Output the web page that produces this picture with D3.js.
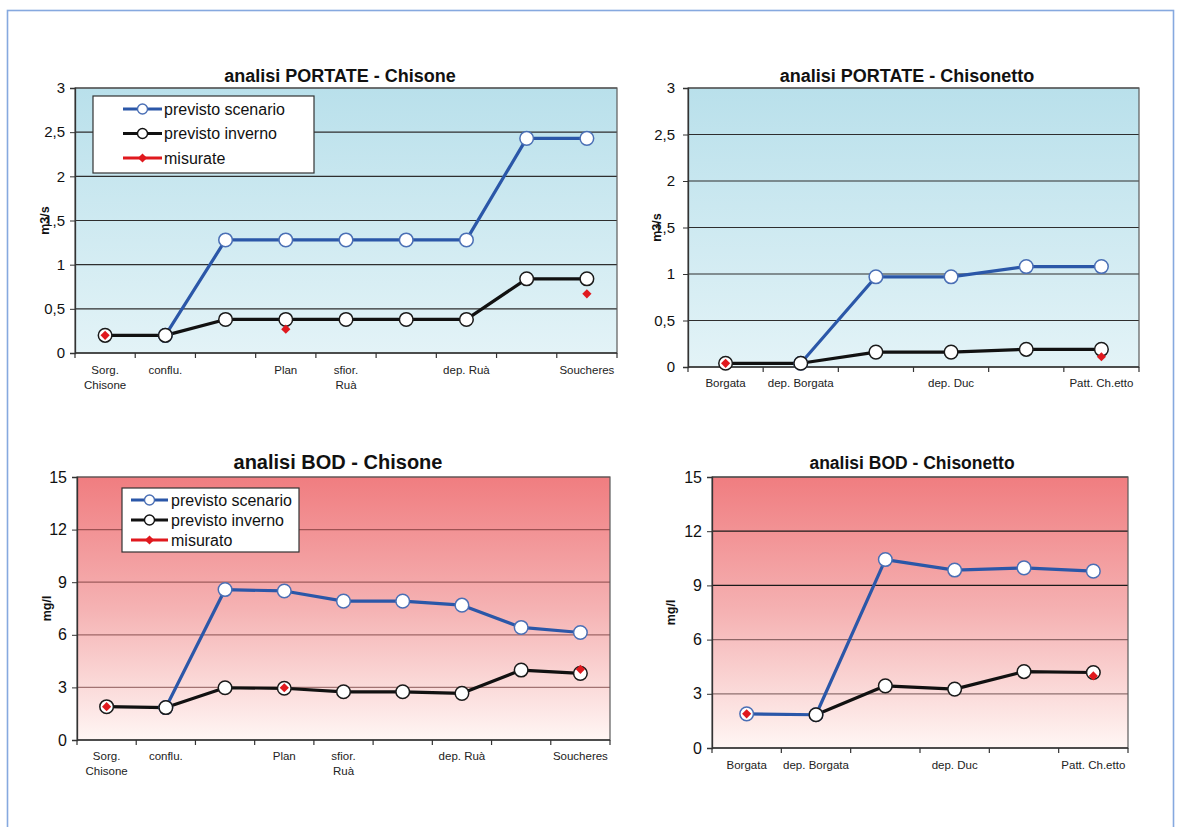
<!DOCTYPE html>
<html>
<head>
<meta charset="utf-8">
<script src="https://cdn.jsdelivr.net/npm/d3@7"></script>
<style>
  html, body { margin: 0; padding: 0; background: #fff; }
  svg { display: block; font-family: "Liberation Sans", Arial, sans-serif; }
</style>
</head>
<body>
<svg id="chart" width="1177" height="827"></svg>
<script>
// ---- data ----
const chisoneCats = [["Sorg.", "Chisone"], ["conflu."], [], ["Plan"], ["sfior.", "Ruà"], [], ["dep. Ruà"], [], ["Soucheres"]];
const chisonettoCats = [["Borgata"], ["dep. Borgata"], [], ["dep. Duc"], [], ["Patt. Ch.etto"]];

const portataTicks = [0, 0.5, 1, 1.5, 2, 2.5, 3];
const bodTicks = [0, 3, 6, 9, 12, 15];

const portChisoneScenario = [null, 0.2, 1.28, 1.28, 1.28, 1.28, 1.28, 2.43, 2.43];
const portChisoneInverno  = [0.2, 0.2, 0.38, 0.38, 0.38, 0.38, 0.38, 0.84, 0.84];
const portChisoneMisurate = [0.2, null, null, 0.27, null, null, null, null, 0.67];

const portChisonettoScenario = [null, 0.04, 0.97, 0.97, 1.08, 1.08];
const portChisonettoInverno  = [0.04, 0.04, 0.16, 0.16, 0.19, 0.19];
const portChisonettoMisurate = [0.04, null, null, null, null, 0.11];

const bodChisoneScenario = [null, 1.85, 8.58, 8.5, 7.92, 7.92, 7.69, 6.42, 6.13];
const bodChisoneInverno  = [1.9, 1.85, 2.98, 2.95, 2.75, 2.75, 2.66, 3.99, 3.8];
const bodChisoneMisurato = [1.9, null, null, 2.98, null, null, null, null, 4.03];

const bodChisonettoScenario = [1.89, 1.84, 10.43, 9.85, 9.97, 9.79];
const bodChisonettoInverno  = [null, 1.84, 3.44, 3.26, 4.23, 4.18];
const bodChisonettoMisurato = [1.89, null, null, null, null, 3.99];

// ---- styles ----
const BLUE = "#2b57a8", BLACK = "#111", RED = "#e0191e";
const itLocale = d3.formatLocale({decimal: ",", thousands: ".", grouping: [3], currency: ["€", ""]});
const fmt = itLocale.format("~g");

const svg = d3.select("#chart");
const defs = svg.append("defs");

function grad(id, stops) {
  const g = defs.append("linearGradient").attr("id", id)
    .attr("x1", 0).attr("y1", 0).attr("x2", 0).attr("y2", 1);
  stops.forEach(s => g.append("stop").attr("offset", s[0]).attr("stop-color", s[1]));
}
grad("bgBlue", [[0, "#b9e0eb"], [1, "#e3f3f7"]]);
grad("bgRed", [[0, "#f07d80"], [0.5, "#f5b2b3"], [1, "#fff6f4"]]);

// outer frame
svg.append("rect").attr("x", 7.5).attr("y", 10.5).attr("width", 1166).attr("height", 830)
  .attr("fill", "none").attr("stroke", "#86a9df").attr("stroke-width", 1.6);

function drawChart(cfg) {
  const g = svg.append("g");
  const x = d3.scaleBand().domain(d3.range(cfg.cats.length)).range([cfg.x0, cfg.x1]).paddingInner(0).paddingOuter(0);
  const y = d3.scaleLinear().domain([0, cfg.ticks[cfg.ticks.length - 1]]).range([cfg.y1, cfg.y0]);
  const cx = i => x(i) + x.bandwidth() / 2;

  // plot background
  g.append("rect").attr("x", cfg.x0).attr("y", cfg.y0)
    .attr("width", cfg.x1 - cfg.x0).attr("height", cfg.y1 - cfg.y0)
    .attr("fill", `url(#${cfg.bg})`);

  // gridlines
  g.selectAll(".grid").data(cfg.ticks.filter(t => t > 0)).join("line")
    .attr("x1", cfg.x0).attr("x2", cfg.x1)
    .attr("y1", d => y(d)).attr("y2", d => y(d))
    .attr("stroke", d => cfg.gridColor(d)).attr("stroke-width", 1.2);

  // plot border
  g.append("rect").attr("x", cfg.x0).attr("y", cfg.y0)
    .attr("width", cfg.x1 - cfg.x0).attr("height", cfg.y1 - cfg.y0)
    .attr("fill", "none").attr("stroke", "#5a5a5a").attr("stroke-width", 1.2);

  // y axis
  const ya = g.append("g").attr("transform", `translate(${cfg.x0},0)`)
    .call(d3.axisLeft(y).tickValues(cfg.ticks).tickFormat(fmt).tickSize(5).tickPadding(cfg.tickPad));
  ya.select(".domain").attr("stroke", "#333").attr("stroke-width", 1.3);
  ya.selectAll(".tick line").attr("stroke", "#333");
  ya.selectAll(".tick text").attr("font-size", cfg.tickFont).attr("fill", "#111")
    .attr("font-family", "Liberation Sans, Arial, sans-serif");

  // x axis line and boundary ticks
  g.append("line").attr("x1", cfg.x0).attr("x2", cfg.x1).attr("y1", cfg.y1).attr("y2", cfg.y1)
    .attr("stroke", "#333").attr("stroke-width", 1.3);
  const bounds = d3.range(cfg.cats.length + 1).map(i => i < cfg.cats.length ? x(i) : cfg.x1);
  g.selectAll(".xt").data(bounds).join("line")
    .attr("x1", d => d).attr("x2", d => d).attr("y1", cfg.y1).attr("y2", cfg.y1 + 5)
    .attr("stroke", "#333").attr("stroke-width", 1.2);

  // category labels
  cfg.cats.forEach((lines, i) => {
    lines.forEach((t, k) => {
      g.append("text").attr("x", cx(i)).attr("y", cfg.labelY + k * 15)
        .attr("text-anchor", "middle").attr("font-size", 11.5).attr("fill", "#222").text(t);
    });
  });

  // title
  g.append("text").attr("x", cfg.titleX).attr("y", cfg.titleY).attr("text-anchor", "middle")
    .attr("font-size", cfg.titleSize).attr("font-weight", "bold").attr("fill", "#111").text(cfg.title);

  // y axis title
  g.append("text").attr("transform", `translate(${cfg.yLabelX},${(cfg.y0 + cfg.y1) / 2}) rotate(-90)`)
    .attr("text-anchor", "middle").attr("font-size", 12.5).attr("font-weight", "bold")
    .attr("fill", "#111").text(cfg.yLabel);

  // series
  const line = d3.line().defined(d => d.v != null).x(d => cx(d.i)).y(d => y(d.v));
  const pts = arr => arr.map((v, i) => ({i, v}));

  cfg.series.forEach(s => {
    const data = pts(s.values);
    g.append("path").datum(data).attr("d", line).attr("fill", "none")
      .attr("stroke", s.color).attr("stroke-width", 3.2).attr("stroke-linejoin", "round");
  });
  cfg.series.forEach(s => {
    g.selectAll(null).data(pts(s.values).filter(d => d.v != null)).join("circle")
      .attr("cx", d => cx(d.i)).attr("cy", d => y(d.v)).attr("r", 6.8)
      .attr("fill", "#fff").attr("stroke", s.marker).attr("stroke-width", 1.5);
  });
  const diamond = (px, py, r) => `M${px},${py - r}L${px + r},${py}L${px},${py + r}L${px - r},${py}Z`;
  g.selectAll(null).data(pts(cfg.measured).filter(d => d.v != null)).join("path")
    .attr("d", d => diamond(cx(d.i), y(d.v), 4.6)).attr("fill", RED);

  // legend
  if (cfg.legend) {
    const L = cfg.legend;
    g.append("rect").attr("x", L.x).attr("y", L.y).attr("width", L.w).attr("height", L.h)
      .attr("fill", "#fff").attr("stroke", "#333").attr("stroke-width", 1.2);
    L.items.forEach((it, k) => {
      const yy = L.rowY + k * L.rowStep;
      g.append("line").attr("x1", L.lx0).attr("x2", L.lx1).attr("y1", yy).attr("y2", yy)
        .attr("stroke", it.color).attr("stroke-width", 3);
      if (it.type === "circle") {
        g.append("circle").attr("cx", (L.lx0 + L.lx1) / 2).attr("cy", yy).attr("r", 5)
          .attr("fill", "#fff").attr("stroke", it.marker).attr("stroke-width", 1.4);
      } else {
        g.append("path").attr("d", diamond((L.lx0 + L.lx1) / 2, yy, 4.6)).attr("fill", RED);
      }
      g.append("text").attr("x", L.tx).attr("y", yy).attr("dy", "0.35em")
        .attr("font-size", 16).attr("fill", "#111").text(it.label);
    });
  }
}

const blueGrid = () => "#2e2e2e";

drawChart({
  title: "analisi PORTATE - Chisone", titleX: 340, titleY: 82, titleSize: 18,
  x0: 75, x1: 617, y0: 88, y1: 353, ticks: portataTicks, cats: chisoneCats,
  bg: "bgBlue", gridColor: blueGrid, tickFont: 15, tickPad: 5,
  labelY: 374, yLabel: "m3/s", yLabelX: 49,
  series: [
    {values: portChisoneScenario, color: BLUE, marker: "#4a6fb5"},
    {values: portChisoneInverno, color: BLACK, marker: "#1a1a1a"}
  ],
  measured: portChisoneMisurate,
  legend: {x: 93, y: 96, w: 221, h: 77, lx0: 123, lx1: 162, tx: 164, rowY: 109, rowStep: 24.5,
    items: [
      {label: "previsto scenario", color: BLUE, marker: "#4a6fb5", type: "circle"},
      {label: "previsto inverno", color: BLACK, marker: "#111", type: "circle"},
      {label: "misurate", color: RED, type: "diamond"}
    ]}
});

drawChart({
  title: "analisi PORTATE - Chisonetto", titleX: 907, titleY: 82, titleSize: 18,
  x0: 688, x1: 1139, y0: 88, y1: 367, ticks: portataTicks, cats: chisonettoCats,
  bg: "bgBlue", gridColor: blueGrid, tickFont: 15, tickPad: 8,
  labelY: 387, yLabel: "m3/s", yLabelX: 661,
  series: [
    {values: portChisonettoScenario, color: BLUE, marker: "#4a6fb5"},
    {values: portChisonettoInverno, color: BLACK, marker: "#1a1a1a"}
  ],
  measured: portChisonettoMisurate
});

drawChart({
  title: "analisi BOD - Chisone", titleX: 338, titleY: 469, titleSize: 20,
  x0: 77, x1: 610, y0: 477, y1: 740, ticks: bodTicks, cats: chisoneCats,
  bg: "bgRed", gridColor: () => "rgba(90,30,30,0.55)", tickFont: 16, tickPad: 5,
  labelY: 760, yLabel: "mg/l", yLabelX: 51,
  series: [
    {values: bodChisoneScenario, color: BLUE, marker: "#4a6fb5"},
    {values: bodChisoneInverno, color: BLACK, marker: "#1a1a1a"}
  ],
  measured: bodChisoneMisurato,
  legend: {x: 122, y: 488, w: 177, h: 64, lx0: 131, lx1: 168, tx: 171, rowY: 500, rowStep: 20,
    items: [
      {label: "previsto scenario", color: BLUE, marker: "#4a6fb5", type: "circle"},
      {label: "previsto inverno", color: BLACK, marker: "#111", type: "circle"},
      {label: "misurato", color: RED, type: "diamond"}
    ]}
});

drawChart({
  title: "analisi BOD - Chisonetto", titleX: 912, titleY: 469, titleSize: 17.5,
  x0: 712, x1: 1128, y0: 477, y1: 748, ticks: bodTicks, cats: chisonettoCats,
  bg: "bgRed", gridColor: d => d >= 9 ? "#1a1a1a" : "rgba(70,40,40,0.6)", tickFont: 16, tickPad: 5,
  labelY: 769, yLabel: "mg/l", yLabelX: 675,
  series: [
    {values: bodChisonettoScenario, color: BLUE, marker: "#4a6fb5"},
    {values: bodChisonettoInverno, color: BLACK, marker: "#1a1a1a"}
  ],
  measured: bodChisonettoMisurato
});
</script>
</body>
</html>
